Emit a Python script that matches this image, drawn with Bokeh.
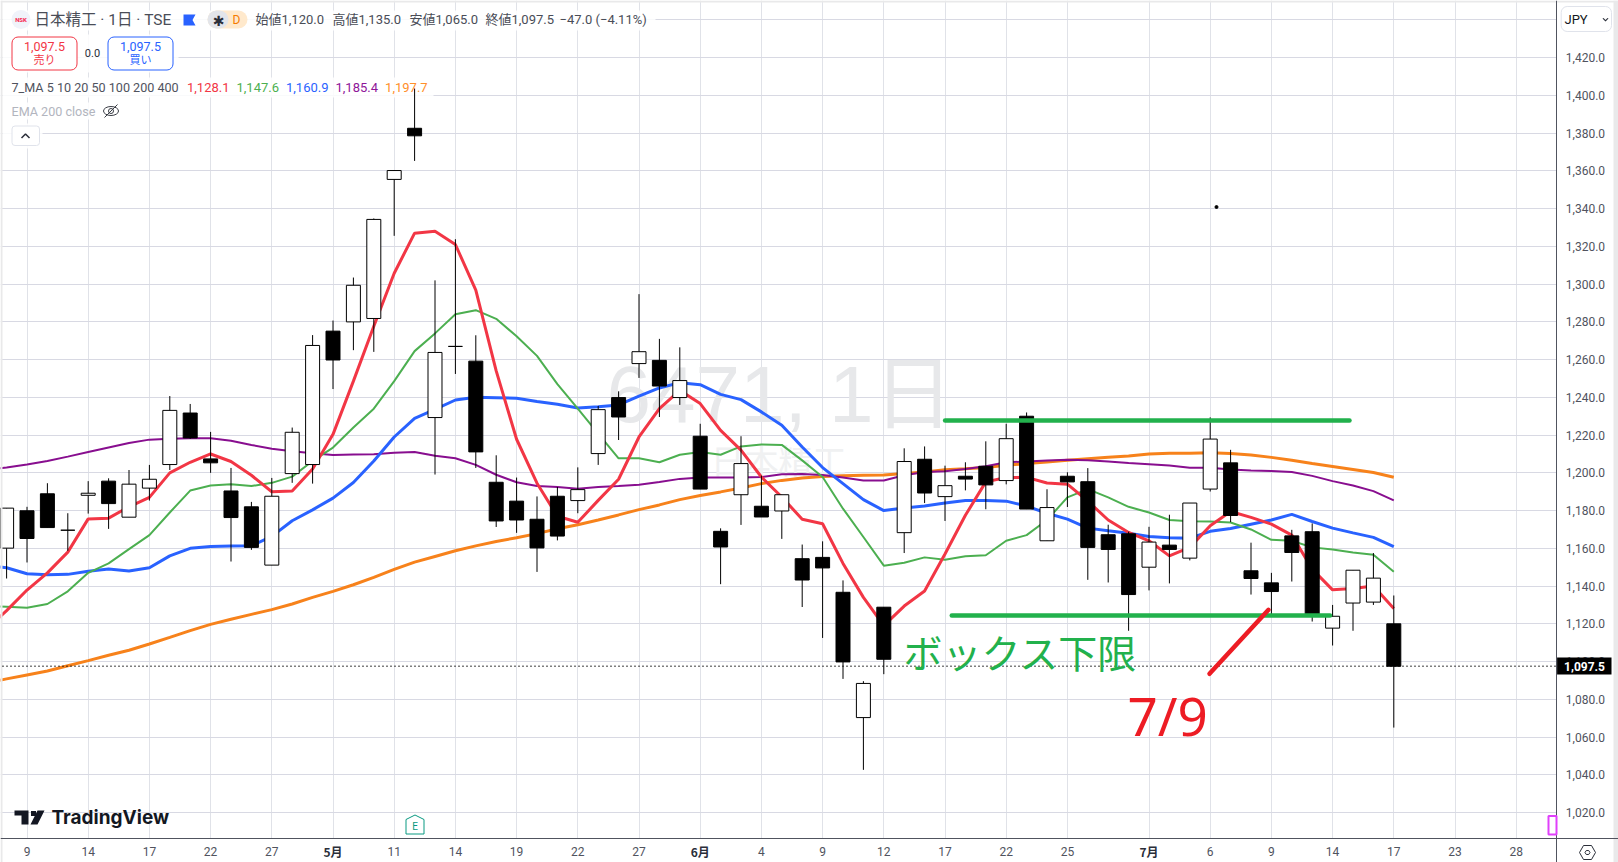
from bokeh.plotting import figure
from bokeh.embed import file_html
from bokeh.resources import INLINE
from bokeh.core.properties import value
from bokeh.models import (Range1d, FixedTicker, Label, BoxAnnotation, PolyAnnotation)

# ---------- data ----------
bars = list(range(-1, 68))
opens = [1160.1,1179.9,1188.9,1169.6,1188.1,1195.6,1176.5,1191.9,1204.4,1231.7,1207.4,1190.4,1182,1151.1,1199.6,1204.4,1275.1,1280,1281.8,1355.5,1382.6,1229.3,1267,1259.2,1195,1185,1175.4,
         1187.6,1185.3,1210.2,1239.9,1257.9,1259.6,1239.9,1219.4,1169,1188.4,1182.3,1179.8,1154.5,1155.2,1136.7,1070.3,1128.8,1168.3,1207.2,1187.4,1198.2,1203.5,1195.9,1230,1164,1198.2,
         1195.3,1167.2,1167.7,1150,1161.7,1154.8,1191.4,1205.3,1148.1,1141.7,1166.6,1168.8,1117.7,1131,1131.5,1120]
closes = [1181.3,1165.2,1171,1169.6,1189.2,1183.7,1194,1196.6,1233.1,1218.5,1205.3,1176.3,1160.5,1187.6,1221.5,1267.5,1259.8,1299.4,1334.3,1360.2,1378.6,1263.8,1267,1211.1,1174.5,1175,1160.2,
          1166.5,1191.1,1233.5,1229.6,1264.2,1246,1248.9,1191.4,1160.7,1204.9,1176.6,1188.4,1143.2,1149.6,1099.8,1088.4,1101.2,1206,1189.3,1193.2,1196.7,1193.6,1218.1,1180.8,1181.6,1195.2,
          1160.5,1159.4,1135.5,1163.3,1159.4,1184,1217.9,1177.4,1144,1137.1,1157.8,1124,1124,1148.4,1144.2,1097.5]
highs = [1181.3,1182,1194.5,1178.6,1195.6,1197.1,1201.5,1204.2,1240.7,1236.5,1221.7,1202.6,1184.6,1197.3,1224,1273,1280.7,1303.5,1334.8,1360.2,1403.7,1302,1323.8,1272.9,1209.3,1197.5,1187.5,
         1192.5,1202.9,1235.4,1243.2,1294.7,1271,1266.5,1226,1170.6,1219.4,1198.5,1188.4,1162,1163.7,1143,1089.6,1128.8,1213,1214,1203.8,1205.6,1216.7,1226,1232,1191.3,1200.3,
         1202.5,1172.5,1168.8,1171.4,1177.8,1184,1229.4,1212.2,1163,1147,1169.8,1173.2,1130,1148.4,1157.5,1135]
lows = [1144,1152.5,1171,1158.7,1178.4,1170.3,1176.5,1185.3,1201.5,1218,1200,1153,1159.2,1151.1,1194.7,1194.3,1244.4,1265,1264.1,1325.6,1365.3,1199.1,1252.4,1202.6,1171.3,1168.2,1147.5,
        1164.2,1178.6,1204.2,1217.4,1250.3,1229.6,1236,1191.4,1141,1172.4,1176.6,1165,1128.9,1112.5,1090.8,1042.6,1093.3,1157.5,1184,1174.5,1190.7,1180.7,1193.9,1180.8,1164,1181.9,
        1143.3,1141.9,1116.3,1137.7,1141.4,1153.6,1190.1,1173.9,1135.5,1125,1142.4,1121.2,1108.5,1116.3,1130,1065]
ma_bars = list(range(-2, 68))
ma5 = [1117,1127,1137.9,1147,1158,1175.6,1176,1182,1187,1200,1205.6,1210,1206,1198.7,1190,1190.4,1202,1220.4,1248.6,1277.7,1305.8,1327,1328,1321,1296.8,1254,1217.8,1194.5,
       1177,1173.8,1185.4,1196.6,1219,1234,1243.7,1236.7,1222.5,1212,1197.8,1187.2,1175.4,1173,1152,1134,1119,1129.4,1137.4,1157,1177.5,1195.2,1197.5,1197.6,1194.6,1194,
       1185,1175,1168.4,1164,1156,1160.5,1172,1179.5,1176.4,1172.8,1167,1149,1138,1138.7,1140,1128.1]
ma10 = [1129.4,1129,1128.5,1130.5,1137.2,1147,1152,1159.6,1167,1179,1190.6,1193.3,1194,1193,1194.7,1198,1206.3,1213.4,1224,1234,1248.6,1264.5,1273.9,1284,1286.2,1281.6,1272.4,1262,
        1247,1234,1220.8,1207.7,1207.7,1205.6,1209.6,1211,1209.6,1214,1215,1214.8,1206.6,1197.8,1181,1166,1150.8,1152.4,1155.2,1154,1155.8,1156.3,1164,1167,1175,1187,
        1191.4,1187,1182,1179,1175,1174.4,1174.2,1173.7,1170,1164.5,1164,1160.5,1159.4,1157.8,1156.6,1147.6]
ma20 = [1151,1149.7,1146.5,1146,1146.2,1147.8,1149,1148,1149.7,1156,1160,1161,1161.2,1161.3,1166.3,1174.6,1180.4,1186.6,1194.9,1206.3,1219,1228.9,1233.6,1238.6,1240,1239.8,1239.5,1237.8,
        1236.3,1234.4,1235,1236,1240.6,1245,1247.8,1246.7,1241.6,1238.8,1232.3,1225.2,1213.7,1202.8,1194.3,1185.8,1180,1181.4,1182.4,1184,1185.4,1185.4,1185,1182.4,1178.6,1175.5,
        1170.7,1169.3,1168,1166.3,1165.6,1165.4,1169,1170.5,1172.8,1175,1178,1174.2,1170.7,1168.2,1165.8,1160.9]
ma50 = [1201.5,1202.8,1204.4,1206.3,1208.6,1211,1213.4,1215.8,1217.6,1218,1218.3,1218.3,1217,1214.8,1212.8,1211.4,1210.4,1209.5,1209.7,1209.8,1210.7,1211,1209,1207.7,1204.2,1199,1195,1193,
        1192.5,1191.6,1192.5,1193,1193.7,1195.2,1196.8,1197.5,1197.5,1197.5,1197.8,1199.2,1199.4,1198.9,1197.5,1196,1195.9,1198.7,1200.5,1200.8,1202,1203.5,1205.6,1206,1206.6,1207,
        1206.7,1206,1205.2,1204.6,1203.9,1202.7,1202.7,1201.8,1201.3,1201,1200.4,1198.4,1195.6,1193.3,1190.3,1185.4]
ma100 = [1088.7,1090.8,1092.9,1095,1097.8,1100.5,1103.3,1106,1109.3,1112.8,1116.4,1119.7,1122.4,1125,1127.5,1130.5,1134,1137.2,1140.7,1144.6,1148.8,1152.7,1155.7,1158.7,1161.3,1163.6,1165.6,1167.8,
         1170.4,1172.5,1175,1177.7,1180.5,1183,1185.8,1188,1189.9,1192,1194.3,1196,1197.3,1198,1198.5,1198.7,1198.9,1199.6,1200.5,1201.7,1202.2,1202.8,1204,1205,1205.8,1206.7,
         1207.5,1208.3,1208.9,1210,1210.4,1210.4,1210.6,1210.3,1209.4,1208.2,1206.7,1205,1203.4,1201.8,1200.2,1197.7]
box_top_level = 1227.7
box_bottom_level = 1124.4
last_price = 1097.5
x_tick_pos = [0,3,6,9,12,15,18,21,24,27,30,33,36,39,42,45,48,51,55,58,61,64,67,70,73]
x_tick_txt = ["9","14","17","22","27","5月","11","14","19","22","27","6月","4","9","12","17","22","25","7月","6","9","14","17","23","28"]
y_ticks = list(range(1020, 1441, 20))

# ---------- pixel helpers (px of the picture -> data) ----------
X = lambda px: (px - 26.5) / 20.4
Y = lambda py: 1020 + (812.0 - py) / 1.887

p = figure(width=1618, height=862, output_backend="svg", toolbar_location=None,
           x_range=Range1d(X(0), X(1618)), y_range=Range1d(Y(862), Y(0)), y_axis_location="right",
           min_border_left=0, min_border_top=0, min_border_right=0, min_border_bottom=0,
           background_fill_color="white", outline_line_color=None)

AX = "#50535e"
p.xaxis.ticker = FixedTicker(ticks=x_tick_pos)
p.xaxis.major_label_overrides = {t: ("" if "月" in s else s) for t, s in zip(x_tick_pos, x_tick_txt)}
p.yaxis.ticker = FixedTicker(ticks=y_ticks)
p.yaxis.major_label_overrides = {v: ("" if v == 1440 else f"{v:,}.0") for v in y_ticks}
p.below[0].fixed_location = Y(838.3)
p.right[0].fixed_location = X(1556.3)
for ax in (p.xaxis, p.yaxis):
    ax.axis_line_color = AX
    ax.axis_line_width = 1
    ax.major_tick_line_color = None
    ax.minor_tick_line_color = None
    ax.major_tick_in = 0
    ax.major_tick_out = 0
    ax.major_label_text_font = "Roboto"
    ax.major_label_text_font_size = "12px"
    ax.major_label_text_color = AX
p.xaxis.major_label_standoff = 8
p.yaxis.major_label_standoff = 9
p.xgrid.grid_line_color = "#e0e2e8"
p.ygrid.grid_line_color = "#d8d9e3"


def pq(l, r, t, b, color, alpha=1.0):
    p.quad(left=[X(l)], right=[X(r)], top=[Y(t)], bottom=[Y(b)], fill_color=color, fill_alpha=alpha, line_color=None)


# axis panels over the grid
pq(1556.3, 1618, 0, 862, "white")
pq(0, 1618, 838.3, 862, "white")

# white halo behind the legend rows
for l, r, t, b in [(2,655,10,30),(2,178,34,72),(2,433,77,97),(2,120,102,119),(2,42,123,148)]:
    pq(l, r, t, b, "white", 0.85)

# watermark
p.text(x=[X(606)], y=[Y(394)], text=["6471, 1日"], text_font=value("Liberation Sans, Noto Sans CJK JP"),
       text_font_size="80px", text_color="#e7e8ea", text_baseline="middle")
p.text(x=[X(710)], y=[Y(459)], text=["日本精工"], text_font=value("Noto Sans CJK JP"),
       text_font_size="34px", text_color="#f0f1f2", text_baseline="middle")

# moving averages
p.line(ma_bars, ma100, line_color="#f7821b", line_width=3)
p.line(ma_bars, ma50, line_color="#880e8f", line_width=2)
p.line(ma_bars, ma20, line_color="#2962ff", line_width=3)
p.line(ma_bars, ma10, line_color="#4caf50", line_width=2)
p.line(ma_bars, ma5, line_color="#f23645", line_width=3)

# candles
p.segment(bars, lows, bars, highs, line_color="black", line_width=1)
up = [i for i in range(len(bars)) if closes[i] > opens[i]]
dn = [i for i in range(len(bars)) if closes[i] <= opens[i]]
p.vbar([bars[i] for i in dn], width=0.686, top=[opens[i] for i in dn], bottom=[closes[i] for i in dn],
       fill_color="black", line_color="black")
p.vbar([bars[i] for i in up], width=0.686, top=[closes[i] for i in up], bottom=[opens[i] for i in up],
       fill_color="white", line_color="black")

# outer strips
pq(0, 2, 0, 862, "#e9e9ea")
pq(0, 1618, 0, 2, "#e9e9ea")
pq(1613, 1618, 0, 862, "#e9e9ea")

# last price dotted line (stops at the price axis)
p.line([X(2), X(1556.3)], [last_price, last_price], line_color="black", line_dash="1 3", line_width=1.3)

# hand-drawn marks
p.line([X(944.6), X(1349)], [box_top_level, box_top_level], line_color="#22b14c", line_width=4.5, line_cap="round")
p.line([X(951.3), X(1329.5)], [box_bottom_level, box_bottom_level], line_color="#22b14c", line_width=4.5, line_cap="round")
p.line([X(1209), X(1268)], [Y(673.3), Y(609.3)], line_color="#ed1c24", line_width=4.5, line_cap="round")
p.scatter([X(1216)], [Y(206.5)], size=3, color="black")


def lab(px, py, text, color="#50535e", size=13, font="Roboto, Noto Sans CJK JP", align="left",
        style="normal", base="middle"):
    p.add_layout(Label(x=X(px), y=Y(py), text=text, text_color=color, text_font_size=f"{size}px",
                       text_font=font, text_align=align, text_font_style=style, text_baseline=base))


def box(l, r, t, b, fill=None, line=None, lw=1, rad=0):
    p.add_layout(BoxAnnotation(left=X(l), right=X(r), top=Y(t), bottom=Y(b), fill_color=fill,
                               fill_alpha=1 if fill else 0, line_color=line, line_width=lw,
                               line_alpha=1 if line else 0, border_radius=rad))


def poly(pts, fill=None, line=None, lw=1):
    p.add_layout(PolyAnnotation(xs=[X(a) for a, _ in pts], ys=[Y(b) for _, b in pts], fill_color=fill,
                                fill_alpha=1 if fill else 0, line_color=line, line_width=lw,
                                line_alpha=1 if line else 0))


# month labels (heavier than the day labels)
for t, s in zip(x_tick_pos, x_tick_txt):
    if "月" in s:
        lab(26.5 + 20.4 * t, 851, s, color="#2a2e39", size=12, font="Noto Sans CJK JP", align="center", style="bold")

# legend: row 1
p.ellipse([X(20.5)], [Y(19)], width=19, height=19, width_units="screen", height_units="screen",
          fill_color="#f0f3fa", line_color=None)
lab(20.5, 19, "NSK", color="#f7264f", size=6, font="Roboto", align="center", style="bold")
lab(34, 19, "日本精工 · 1日 · TSE", size=15.5, color="#4a4d57")
poly([(183, 14), (195, 14), (192, 19.5), (195, 25), (183, 25)], fill="#2962ff")
box(207, 247, 10, 28, fill="#ffe9cc", rad=9)
box(207, 228, 10, 28, fill="#e3e5ea", rad=9)
lab(218, 20, "✱", color="#2a2e39", size=14, align="center", font="DejaVu Sans")
lab(236, 19, "D", color="#f57c00", size=12, align="center")
for px, s in [(255, "始値1,120.0"), (332, "高値1,135.0"), (409, "安値1,065.0"), (485, "終値1,097.5"), (559, "−47.0 (−4.11%)")]:
    lab(px, 19, s, color="#4a4d57")

# legend: buttons
box(11.5, 76.5, 36.5, 69.5, fill="white", line="#f23645", rad=6)
box(107.5, 172.5, 36.5, 69.5, fill="white", line="#2962ff", rad=6)
lab(44, 46, "1,097.5", color="#f23645", size=12.5, align="center")
lab(44, 60, "売り", color="#f23645", size=11, align="center")
lab(92, 52, "0.0", color="#2a2e39", size=11, align="center")
lab(140, 46, "1,097.5", color="#2962ff", size=12.5, align="center")
lab(140, 60, "買い", color="#2962ff", size=11, align="center")

# legend: indicators
lab(11, 87, "7_MA 5 10 20 50 100 200 400", color="#50535e", size=12.6)
for px, s, c in [(186.5, "1,128.1", "#f23645"), (236, "1,147.6", "#4caf50"), (285.5, "1,160.9", "#2962ff"),
                 (335, "1,185.4", "#8e1599"), (384.6, "1,197.7", "#ff8f2b")]:
    lab(px, 87, s, color=c)
lab(11, 110.5, "EMA 200 close", color="#b2b5be", size=12.6)
p.ellipse([X(110.5)], [Y(110.5)], width=15, height=9, width_units="screen", height_units="screen",
          fill_color=None, line_color="#3a3d45", line_width=1)
p.ellipse([X(110.5)], [Y(110.5)], width=5, height=5, width_units="screen", height_units="screen",
          fill_color=None, line_color="#3a3d45", line_width=1)
p.line([X(104), X(117)], [Y(117), Y(104)], line_color="#3a3d45", line_width=1)
box(11.5, 39, 125.5, 145, fill="white", line="#e0e3eb", rad=3)
p.line([X(21), X(25), X(29)], [Y(137.5), Y(133.5), Y(137.5)], line_color="#2a2e39", line_width=1.5, level="overlay")

# TradingView logo
poly([(14, 810), (28, 810), (28, 824), (21, 824), (21, 815), (14, 815)], fill="#131722")
poly([(30.5, 810.5), (35.5, 810.5), (35.5, 815.5), (30.5, 815.5)], fill="#131722")
poly([(37, 810), (44, 810), (37, 824), (30, 824)], fill="#131722")
lab(51, 816.5, "TradingView", color="#131722", size=19, font="Inter", style="bold")

# earnings tag
poly([(405.5, 819), (414.5, 814.5), (423.5, 819), (423.5, 833.5), (405.5, 833.5)], fill="white", line="#089981", lw=1)
lab(414.5, 825.5, "E", color="#089981", size=10, align="center")

# drawn texts
lab(903, 650, "ボックス下限", color="#22b14c", size=39, font="Noto Sans CJK JP")
lab(1127, 715, "7/9", color="#ed1c24", size=53, font="Noto Sans, Liberation Sans", base="alphabetic")

# price tag, currency box, small boxes
box(1556.6, 1611, 657, 674, fill="black")
lab(1584, 665.5, "1,097.5", color="white", size=12, align="center", style="bold")
box(1560.7, 1611, 6, 31, fill="white", line="#e0e3eb", rad=6)
lab(1564, 19, "JPY", color="#131722", size=13)
poly([(1602, 18), (1605, 21), (1608, 18), (1607, 17.5), (1605, 19.5), (1603, 17.5)], fill="#2a2e39")
box(1548, 1556, 815.5, 834, fill="white", line="#e040fb", lw=2)
poly([(1579, 852), (1583, 845), (1591, 845), (1595, 852), (1591, 859), (1583, 859)], fill="white", line="#2a2e39")
poly([(1584.5, 852), (1585.8, 850), (1588.2, 850), (1589.5, 852), (1588.2, 854), (1585.8, 854)], fill="white", line="#2a2e39")

open("out.html", "w").write(file_html(p, INLINE))
